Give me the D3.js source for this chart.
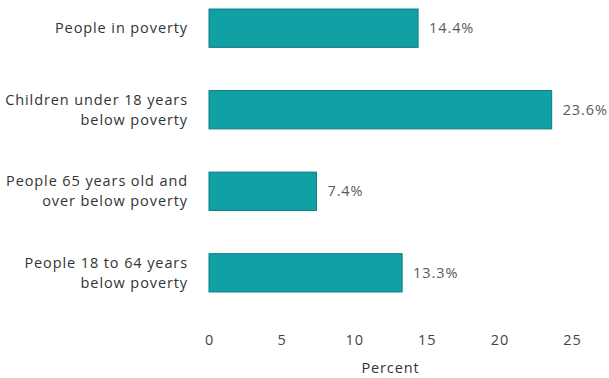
<!DOCTYPE html>
<html><head><meta charset="utf-8">
<script src="https://cdn.jsdelivr.net/npm/d3@7"></script>
<style>body{margin:0;background:#fff}svg{display:block}text{font-family:"Open Sans",sans-serif}</style>
</head><body>
<svg id="c" width="609" height="378"></svg>
<script>
const categories = [
  ["People in poverty"],
  ["Children under 18 years", "below poverty"],
  ["People 65 years old and", "over below poverty"],
  ["People 18 to 64 years", "below poverty"]
];
const values = [14.4, 23.6, 7.4, 13.3];
const tickValues = [0, 5, 10, 15, 20, 25];
const axisTitle = "Percent";

const FS = 14.5, LS = 0.9;
const svg = d3.select("#c");
const x = d3.scaleLinear().domain([0, 25]).range([209, 572]);
const y = d3.scaleBand().domain(d3.range(categories.length)).range([-13, 314]).paddingInner(0.53).paddingOuter(0.27);

const bars = svg.append("g");
bars.selectAll("rect").data(values).join("rect")
  .attr("x", x(0)).attr("y", (d, i) => y(i))
  .attr("width", d => x(d) - x(0)).attr("height", y.bandwidth())
  .attr("fill", "#11a0a3").attr("stroke", "#0b7d86").attr("stroke-width", 1);

bars.selectAll("text.v").data(values).join("text").attr("class", "v")
  .attr("x", d => x(d) + 11).attr("y", (d, i) => y(i) + y.bandwidth() / 2)
  .attr("dy", "0.35em").attr("font-size", FS).attr("letter-spacing", LS).attr("fill", "#5a5a5a")
  .text(d => d.toFixed(1) + "%");

const lab = svg.append("g");
categories.forEach((lines, i) => {
  const cy = y(i) + y.bandwidth() / 2;
  const t = lab.append("text").attr("x", 188).attr("text-anchor", "end")
    .attr("font-size", FS).attr("letter-spacing", LS).attr("fill", "#333");
  lines.forEach((l, j) => {
    t.append("tspan").attr("x", 188)
      .attr("y", cy + (j - (lines.length - 1) / 2) * 20)
      .attr("dy", "0.35em").text(l);
  });
});

const ax = svg.append("g").attr("transform", "translate(0,335)")
  .call(d3.axisBottom(x).tickValues(tickValues).tickSize(0).tickPadding(0));
ax.select(".domain").remove();
ax.selectAll("text").attr("font-size", FS).attr("letter-spacing", LS).attr("fill", "#444")
  .attr("font-family", '"Open Sans",sans-serif').attr("dy", "0.71em");

svg.append("text").attr("x", (x(0) + x(25)) / 2).attr("y", 373)
  .attr("text-anchor", "middle").attr("font-size", FS).attr("letter-spacing", LS).attr("fill", "#333").text(axisTitle);
</script>
</body></html>
